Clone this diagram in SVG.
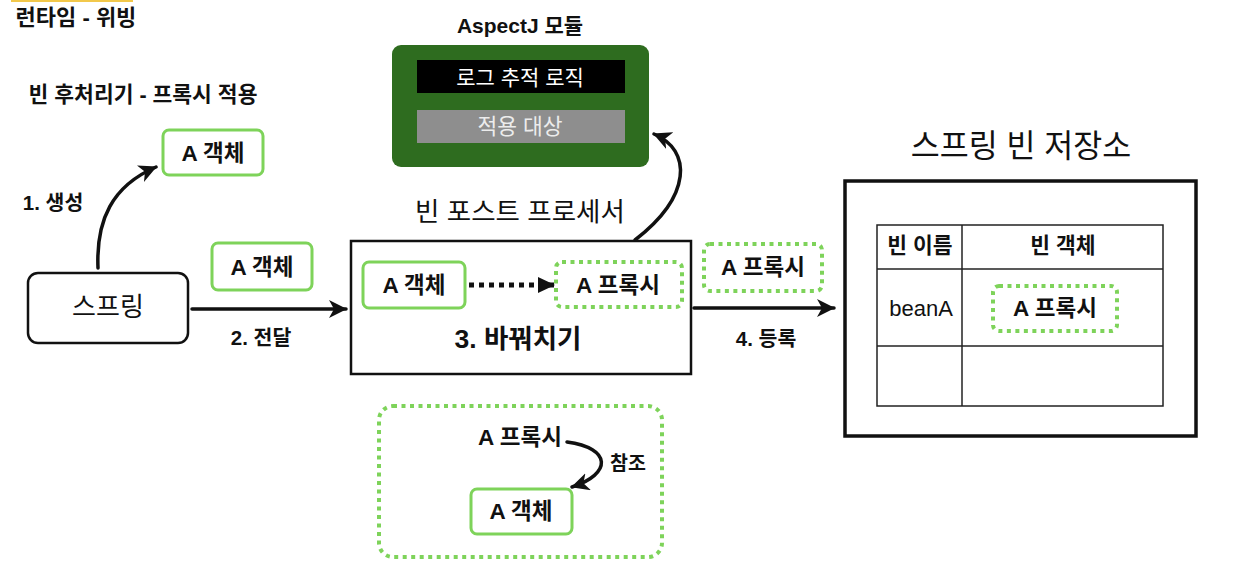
<svg xmlns="http://www.w3.org/2000/svg" width="1236" height="578" viewBox="0 0 1236 578">
<defs>
<style>
text{font-family:"Liberation Sans","Noto Sans CJK KR",sans-serif;fill:#111;text-anchor:middle;dominant-baseline:central}
.b{font-weight:bold}
.solidg{fill:#fff;stroke:#7ed35a;stroke-width:3}
.dotg{fill:#fff;stroke:#7ed35a;stroke-width:4;stroke-dasharray:4 4.5}
.edge{fill:none;stroke:#111;stroke-width:3.5;stroke-linecap:round}
</style>
<marker id="sk" markerUnits="userSpaceOnUse" markerWidth="20" markerHeight="18" refX="17" refY="9" orient="auto">
<path d="M0,0 L18,9 L0,18 L5,9 z" fill="#111"/>
</marker>
<marker id="tri" markerUnits="userSpaceOnUse" markerWidth="18" markerHeight="18" refX="16" refY="9" orient="auto">
<path d="M0,1 L17,9 L0,17 z" fill="#111"/>
</marker>
</defs>
<rect x="11" y="0" width="122" height="2" fill="#f2c84b"/>
<text x="76" y="17" class="b" font-size="22">런타임 - 위빙</text>
<text x="143" y="95" class="b" font-size="21.5">빈 후처리기 - 프록시 적용</text>

<g id="label-create"><text x="53" y="202" class="b" font-size="20.5">1. 생성</text></g>
<g id="label-pass"><text x="261" y="337" class="b" font-size="20.5">2. 전달</text></g>
<g id="label-register"><text x="766" y="338" class="b" font-size="20.5">4. 등록</text></g>

<g id="aspectj">
<text x="520" y="25" class="b" font-size="21">AspectJ 모듈</text>
<rect x="392" y="45" width="257" height="122" rx="9" fill="#2e6c1f"/>
<rect x="417" y="60" width="208" height="33" fill="#000"/>
<text x="520" y="77" font-size="21" style="fill:#fff">로그 추적 로직</text>
<rect x="417" y="110" width="208" height="33" fill="#8e8e8e"/>
<text x="520" y="127" font-size="21.5" style="fill:#ececec">적용 대상</text>
</g>

<g id="a-obj-created">
<rect class="solidg" x="163" y="130" width="100" height="45" rx="6"/>
<text x="213" y="153" class="b" font-size="22.5">A 객체</text>
</g>

<g id="spring">
<rect x="28" y="273" width="160" height="70" rx="10" fill="#fff" stroke="#111" stroke-width="2.5"/>
<text x="108" y="307" font-size="26">스프링</text>
</g>

<g id="a-obj-passed">
<rect class="solidg" x="212" y="243" width="100" height="47" rx="6"/>
<text x="262" y="267" class="b" font-size="22.5">A 객체</text>
</g>

<g id="post-processor">
<text x="520" y="212" font-size="26.5">빈 포스트 프로세서</text>
<rect x="351" y="241" width="340" height="133" fill="#fff" stroke="#111" stroke-width="2.5"/>
<text x="518" y="339" class="b" font-size="26.5">3. 바꿔치기</text>
</g>

<g id="pp-a-obj">
<rect class="solidg" x="363" y="262" width="102" height="46" rx="6"/>
<text x="414" y="285" class="b" font-size="22.5">A 객체</text>
</g>
<g id="pp-a-proxy">
<rect class="dotg" x="556" y="262" width="126" height="45" rx="6"/>
<text x="618" y="285" class="b" font-size="22.5">A 프록시</text>
</g>

<g id="a-proxy-register">
<rect class="dotg" x="704" y="244" width="118" height="47" rx="6"/>
<text x="763" y="267" class="b" font-size="22.5">A 프록시</text>
</g>

<g id="bean-store">
<text x="1021" y="146" font-size="31.5">스프링 빈 저장소</text>
<rect x="845" y="181" width="351" height="255" fill="#fff" stroke="#111" stroke-width="3.5"/>
<rect x="877" y="225" width="286" height="181" fill="#fff" stroke="#222" stroke-width="1.5"/>
<line x1="962" y1="225" x2="962" y2="406" stroke="#222" stroke-width="1.5"/>
<line x1="877" y1="269" x2="1163" y2="269" stroke="#222" stroke-width="1.5"/>
<line x1="877" y1="346" x2="1163" y2="346" stroke="#222" stroke-width="1.5"/>
<text x="920" y="246" class="b" font-size="21.5">빈 이름</text>
<text x="1063" y="246" class="b" font-size="21.5">빈 객체</text>
<text x="921" y="308" font-size="22">beanA</text>
</g>
<g id="store-a-proxy">
<rect class="dotg" x="993" y="286" width="124" height="45" rx="6"/>
<text x="1055" y="308" class="b" font-size="22.5">A 프록시</text>
</g>

<g id="proxy-ref">
<rect class="dotg" x="379" y="406" width="283" height="151" rx="14"/>
<text x="520" y="437" class="b" font-size="22.5">A 프록시</text>
<text x="628" y="463" class="b" font-size="19.5">참조</text>
</g>
<g id="ref-a-obj">
<rect class="solidg" x="471" y="489" width="101" height="45" rx="6"/>
<text x="521" y="511" class="b" font-size="22.5">A 객체</text>
</g>

<g id="connectors">
<path class="edge" d="M98,268 C96,220 112,186 156,167" marker-end="url(#sk)"/>
<path class="edge" d="M192,309 L346,309" marker-end="url(#sk)"/>
<path class="edge" d="M469,285 L554,285" style="stroke-width:5;stroke-dasharray:5 5;stroke-linecap:butt" marker-end="url(#tri)"/>
<path class="edge" d="M635,240 C692,196 692,150 654,134" marker-end="url(#sk)"/>
<path class="edge" d="M694,308 L834,308" marker-end="url(#sk)"/>
<path class="edge" d="M567,442 C612,448 612,474 572,487" marker-end="url(#sk)"/>
</g>
</svg>
